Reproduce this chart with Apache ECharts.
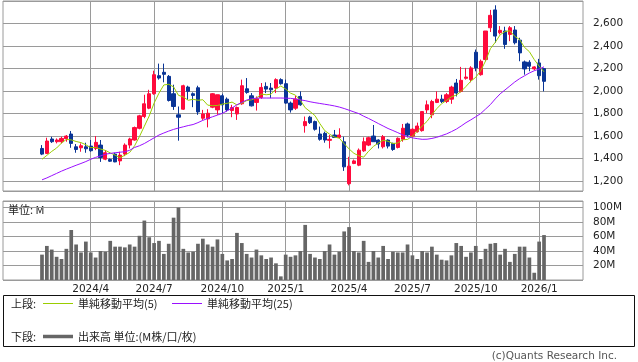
<!DOCTYPE html>
<html><head><meta charset="utf-8">
<script src="https://cdn.jsdelivr.net/npm/echarts@6/dist/echarts.min.js"></script>
<style>html,body{margin:0;padding:0;background:#fff}#c{width:638px;height:362px}</style>
</head><body><div id="c"></div>
<script>
// weekly categories (Monday of each week)
const firstWeek = Date.UTC(2023, 10, 27);
const weekCount = 120;
const categories = [];
for (let k = 0; k < weekCount; k++) {
  const d = new Date(firstWeek + k * 7 * 86400000);
  categories.push(d.getUTCFullYear() + '/' + (d.getUTCMonth() + 1) + '/' + d.getUTCDate());
}
const tickLabels = ['2024/4','2024/7','2024/10','2025/1','2025/4','2025/7','2025/10','2026/1'];
const dataStartWeek = '2024/1/22';

const opens = [1491,1447,1575,1551,1551,1578,1619,1506,1497,1506,1512,1491,1521,1396,1393,1441,1381,1441,1521,1566,
1670,1774,1848,1976,2136,2166,2130,1976,1789,1839,2035,1976,2029,1759,1753,1857,1833,1958,1928,1827,
1797,1887,2020,1958,1899,1943,2041,2026,2026,2101,2065,1893,1848,1952,1693,1768,1729,1619,1625,1563,
1610,1589,1550,1179,1358,1343,1470,1521,1601,1566,1506,1566,1536,1500,1572,1708,1601,1640,1649,1833,
1789,1899,1928,1907,1928,2071,1997,2113,2101,2344,2145,2279,2561,2719,2517,2532,2502,2541,2451,2258,
2255,2196,2249,2199];
const closes = [1441,1557,1551,1566,1580,1601,1536,1482,1515,1488,1471,1545,1411,1453,1378,1372,1432,1521,1575,1676,
1780,1887,1976,2145,2115,2148,1916,1863,1768,2047,1997,1961,1815,1797,1803,1976,1967,1878,1833,1854,
1854,2047,1988,1869,1931,2032,2017,2011,2101,2065,1893,1833,1928,1878,1729,1720,1661,1572,1566,1572,
1589,1610,1328,1334,1381,1476,1551,1586,1551,1530,1595,1512,1482,1581,1670,1610,1661,1690,1818,1878,
1907,1928,1907,1967,2035,1982,2095,2124,2205,2205,2264,2532,2671,2487,2538,2413,2561,2428,2338,2196,
2220,2214,2136,2086];
const lows = [1432,1441,1540,1536,1536,1551,1497,1453,1462,1453,1462,1476,1372,1387,1372,1369,1343,1423,1491,1560,
1661,1759,1839,1967,2101,2077,1907,1833,1560,1833,1922,1857,1789,1744,1678,1848,1789,1803,1818,1768,
1744,1878,1976,1863,1827,1931,1982,1937,1982,2056,1887,1809,1833,1869,1631,1708,1649,1560,1542,1491,
1589,1580,1292,1164,1352,1334,1461,1512,1551,1491,1491,1491,1470,1491,1551,1589,1589,1631,1640,1803,
1759,1893,1893,1893,1887,1952,1988,2101,2077,2175,2136,2264,2523,2428,2502,2374,2442,2413,2264,2145,
2175,2184,2101,1997];
const highs = [1521,1586,1595,1580,1595,1610,1646,1530,1536,1542,1566,1601,1566,1476,1402,1453,1462,1536,1586,1685,
1789,1967,2011,2180,2243,2243,2142,2056,1863,2056,2047,1988,2047,1833,1839,1982,1967,1976,1943,1878,
1863,2101,2115,1982,1952,2071,2077,2071,2113,2113,2101,1907,1958,1997,1774,1780,1738,1685,1640,1610,
1655,1670,1595,1417,1393,1491,1589,1595,1699,1572,1610,1572,1542,1589,1708,1720,1670,1720,1818,1916,
1922,1997,1967,1982,2047,2107,2214,2205,2220,2368,2279,2532,2719,2760,2576,2570,2576,2576,2472,2270,
2273,2220,2285,2205];
const ma5 = [1395,1430,1465,1495,1539,1571,1567,1553,1543,1524,1498,1500,1486,1474,1452,1432,1409,1431,1456,1515,
1597,1688,1779,1893,1981,2054,2060,2037,1962,1948,1918,1927,1918,1923,1875,1870,1872,1884,1891,1902,
1877,1893,1915,1922,1938,1973,1967,1972,2018,2045,2017,1981,1964,1919,1852,1818,1783,1712,1650,1618,
1592,1582,1533,1487,1448,1426,1414,1466,1509,1539,1563,1555,1534,1540,1568,1571,1601,1642,1690,1731,
1791,1844,1888,1917,1949,1964,1997,2041,2088,2122,2179,2266,2375,2432,2498,2528,2534,2485,2456,2387,
2349,2279,2221,2170];
const ma25 = [1213,1230,1250,1270,1290,1308,1325,1342,1358,1375,1395,1412,1425,1440,1447,1453,1458,1462,1475,1500,
1515,1535,1560,1585,1610,1628,1645,1660,1672,1683,1694,1703,1720,1740,1757,1772,1787,1802,1825,1850,
1878,1900,1920,1932,1937,1938,1938,1938,1938,1938,1937,1935,1930,1922,1915,1905,1897,1890,1883,1876,
1868,1858,1845,1830,1815,1800,1777,1757,1735,1712,1690,1668,1650,1631,1612,1596,1585,1578,1572,1573,
1580,1590,1605,1620,1640,1662,1690,1720,1745,1772,1800,1840,1880,1930,1975,2010,2045,2080,2110,2135,
2160,2180,2195,2215];
const volume = [35,47,42,32,29,43,69,49,38,53,38,31,40,39,54,46,46,45,49,46,
61,82,59,51,54,36,50,86,100,43,38,39,50,57,49,46,56,36,27,29,
65,51,36,31,42,34,29,31,23,5,35,32,34,40,76,36,31,29,40,49,
35,39,67,73,40,38,54,25,40,31,47,29,39,38,38,49,34,29,40,38,
46,35,28,27,34,51,47,32,38,47,29,43,50,51,35,43,25,36,46,46,
31,10,53,62];

const start = categories.indexOf(dataStartWeek);
function pad(arr, mapFn) {
  const out = [];
  for (let k = 0; k < weekCount; k++) {
    const j = k - start;
    out.push(j >= 0 && j < arr.length ? mapFn(j) : '-');
  }
  return out;
}
const candleData = pad(opens, j => [opens[j], closes[j], lows[j], highs[j]]);
const ma5Data = pad(ma5, j => ma5[j]);
const ma25Data = pad(ma25, j => ma25[j]);
const volData = pad(volume, j => volume[j]);

const labelAt = {};
tickLabels.forEach(t => {
  const idx = categories.findIndex(c => c.startsWith(t + '/'));
  if (idx >= 0) labelAt[idx] = t;
});
const isTick = (idx) => labelAt[idx] !== undefined;

const GRID = '#9a9a9a';
const RED = '#ff0a3c';
const BLUE = '#0a3596';
const FONT = 'DejaVu Sans';
const JP = 'Noto Sans CJK JP';

const chart = echarts.init(document.getElementById('c'), null, {renderer: 'canvas'});
const xBase = {
  type: 'category', data: categories, boundaryGap: false,
  axisLine: {show: false}, axisTick: {show: false},
  splitLine: {show: true, interval: (i) => isTick(i), lineStyle: {color: GRID, width: 1}}
};
chart.setOption({
  animation: false,
  grid: [
    {left: 3, top: 1, width: 580, height: 190, show: true, borderColor: GRID, borderWidth: 1},
    {left: 3, top: 201, width: 580, height: 79, show: true, borderColor: GRID, borderWidth: 1}
  ],
  xAxis: [
    Object.assign({}, xBase, {gridIndex: 0, axisLabel: {show: false}}),
    Object.assign({}, xBase, {gridIndex: 1, axisLabel: {
      show: true, interval: (i) => isTick(i), formatter: (v, i) => labelAt[i] || '',
      fontFamily: FONT, fontSize: 10.5, color: '#222', margin: 4
    }})
  ],
  yAxis: [
    {type: 'value', gridIndex: 0, position: 'right', min: 1114, max: 2798, splitNumber: 8,
     axisLine: {show: false}, axisTick: {show: false},
     axisLabel: {showMinLabel: false, showMaxLabel: false, margin: 10, fontFamily: FONT, fontSize: 10.5, color: '#222',
       formatter: v => v.toLocaleString('en-US')},
     splitLine: {lineStyle: {color: GRID, width: 1}}},
    {type: 'value', gridIndex: 1, position: 'right', min: 0, max: 109, splitNumber: 5,
     axisLine: {show: false}, axisTick: {show: false},
     axisLabel: {showMinLabel: false, showMaxLabel: false, margin: 10, fontFamily: FONT, fontSize: 10.5, color: '#222',
       formatter: v => v + 'M'},
     splitLine: {lineStyle: {color: GRID, width: 1}}}
  ],
  series: [
    {type: 'candlestick', xAxisIndex: 0, yAxisIndex: 0, data: candleData, barWidth: 3.7,
     itemStyle: {color: RED, color0: BLUE, borderColor: RED, borderColor0: BLUE, borderWidth: 1}},
    {type: 'line', name: '単純移動平均(5)', xAxisIndex: 0, yAxisIndex: 0, data: ma5Data, symbol: 'none',
     lineStyle: {color: '#9acd00', width: 1}},
    {type: 'line', name: '単純移動平均(25)', xAxisIndex: 0, yAxisIndex: 0, data: ma25Data, symbol: 'none',
     lineStyle: {color: '#9a10ff', width: 1}},
    {type: 'bar', name: '出来高', xAxisIndex: 1, yAxisIndex: 1, data: volData, barWidth: 3.7,
     itemStyle: {color: '#666666'}}
  ],
  graphic: [
    {type: 'text', x: 8, y: 210, style: {text: '単位: M', fontFamily: JP, fontSize: 11, fill: '#222', textVerticalAlign: 'middle'}},
    {type: 'rect', shape: {x: 3.5, y: 295.5, width: 631, height: 51}, style: {fill: 'none', stroke: '#111', lineWidth: 1}},
    {type: 'text', x: 11, y: 303.5, style: {text: '上段:', fontFamily: JP, fontSize: 11, fill: '#222', textVerticalAlign: 'middle'}},
    {type: 'line', shape: {x1: 43, y1: 303.5, x2: 73, y2: 303.5}, style: {stroke: '#9acd00', lineWidth: 1}},
    {type: 'text', x: 78, y: 303.5, style: {text: '単純移動平均(5)', fontFamily: JP, fontSize: 11, fill: '#222', textVerticalAlign: 'middle'}},
    {type: 'line', shape: {x1: 172, y1: 303.5, x2: 202, y2: 303.5}, style: {stroke: '#9a10ff', lineWidth: 1}},
    {type: 'text', x: 207, y: 303.5, style: {text: '単純移動平均(25)', fontFamily: JP, fontSize: 11, fill: '#222', textVerticalAlign: 'middle'}},
    {type: 'text', x: 11, y: 336.5, style: {text: '下段:', fontFamily: JP, fontSize: 11, fill: '#222', textVerticalAlign: 'middle'}},
    {type: 'line', shape: {x1: 43, y1: 336.5, x2: 73, y2: 336.5}, style: {stroke: '#666666', lineWidth: 3.5}},
    {type: 'text', x: 78, y: 336.5, style: {text: '出来高 単位:(M株/口/枚)', fontFamily: JP, fontSize: 11, fill: '#222', textVerticalAlign: 'middle'}},
    {type: 'text', x: 617, y: 356, style: {text: '(c)Quants Research Inc.', fontFamily: FONT, fontSize: 10.5, fill: '#555', textAlign: 'right', textVerticalAlign: 'middle'}}
  ]
});
</script>
</body></html>
